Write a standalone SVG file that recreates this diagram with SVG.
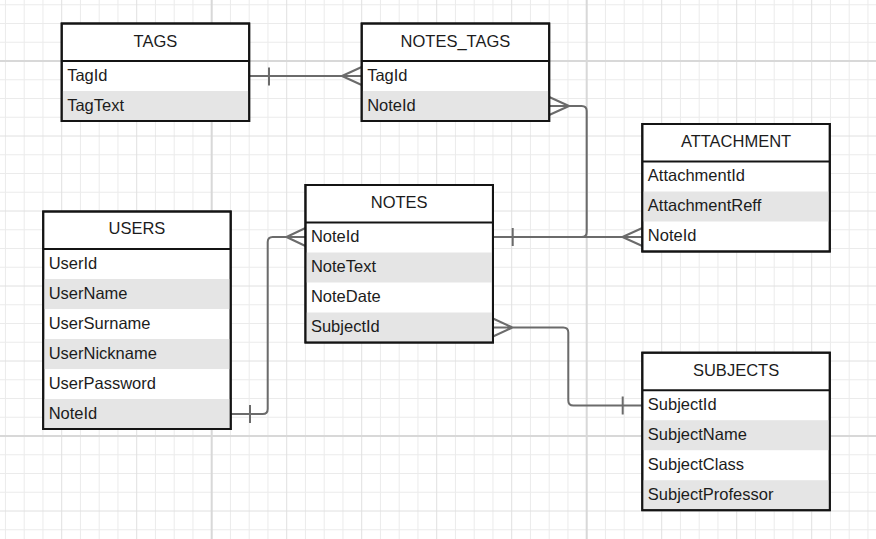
<svg xmlns="http://www.w3.org/2000/svg" width="876" height="539" viewBox="0 0 876 539">
<style>
.minor{stroke:#ebebeb;stroke-width:1;fill:none}
.medium{stroke:#e0e0e0;stroke-width:1;fill:none}
.major{stroke:#d8d8d8;stroke-width:2;fill:none}
.box{fill:#ffffff;stroke:#141414;stroke-width:2}
.sep{stroke:#141414;stroke-width:2}
.alt{fill:#e5e5e5}
.title{font-family:"Liberation Sans",Arial,sans-serif;font-size:16.5px;fill:#1c1c1c;text-anchor:middle}
.field{font-family:"Liberation Sans",Arial,sans-serif;font-size:16.5px;fill:#1c1c1c}
.conn{stroke:#6b6b6b;stroke-width:2;fill:none;stroke-linejoin:round}
</style>
<rect width="876" height="539" fill="#ffffff"/>
<g id="grid">
<path class="minor" d="M5.45 0V539M24.2 0V539M42.95 0V539M80.45 0V539M99.2 0V539M117.95 0V539M155.45 0V539M174.2 0V539M192.95 0V539M230.45 0V539M249.2 0V539M267.95 0V539M305.45 0V539M324.2 0V539M342.95 0V539M380.45 0V539M399.2 0V539M417.95 0V539M455.45 0V539M474.2 0V539M492.95 0V539M530.45 0V539M549.2 0V539M567.95 0V539M605.45 0V539M624.2 0V539M642.95 0V539M680.45 0V539M699.2 0V539M717.95 0V539M755.45 0V539M774.2 0V539M792.95 0V539M830.45 0V539M849.2 0V539M867.95 0V539
M0 4.75H876M0 23.5H876M0 42.25H876M0 79.75H876M0 98.5H876M0 117.25H876M0 154.75H876M0 173.5H876M0 192.25H876M0 229.75H876M0 248.5H876M0 267.25H876M0 304.75H876M0 323.5H876M0 342.25H876M0 379.75H876M0 398.5H876M0 417.25H876M0 454.75H876M0 473.5H876M0 492.25H876M0 529.75H876"/>
<path class="medium" d="M61.7 0V539M136.7 0V539M286.7 0V539M361.7 0V539M436.7 0V539M511.7 0V539M661.7 0V539M736.7 0V539M811.7 0V539M0 136H876M0 211H876M0 286H876M0 361H876M0 511H876"/>
<path class="major" d="M211.7 0V539M586.7 0V539M0 61H876M0 436H876"/>
</g>
<g id="connectors">
<g id="tags-notes_tags">
<path class="conn" d="M249.2 76H361.7M269 67.5V85.5M361.7 67L342 76L361.7 85"/>
</g>
<g id="notes-notes_tags">
<path class="conn" d="M493 237H581.7Q586.7 237 586.7 232V111Q586.7 106 581.7 106H549.2M549.2 97L569 106L549.2 115M512.7 228V246"/>
</g>
<g id="notes-attachment">
<path class="conn" d="M493 237H642.3M642.3 228L622.5 237L642.3 246"/>
</g>
<g id="users-notes">
<path class="conn" d="M230.7 414H262.7Q267.7 414 267.7 409V242Q267.7 237 272.7 237H305.45M250 405V423M305.45 228L286.5 237L305.45 246"/>
</g>
<g id="notes-subjects">
<path class="conn" d="M493 327.5H563.3Q568.3 327.5 568.3 332.5V400.5Q568.3 405.5 573.3 405.5H642.3M493 318.5L512.5 327.5L493 336.5M622.7 396.5V414.5"/>
</g>
</g>
<g id="TAGS">
<rect class="box" x="61.7" y="23.5" width="187.5" height="97.5"/>
<rect class="alt" x="62.7" y="91" width="185.5" height="29"/>
<line class="sep" x1="61.7" y1="61" x2="249.2" y2="61"/>
<rect x="61.7" y="23.5" width="187.5" height="97.5" fill="none" stroke="#141414" stroke-width="2"/>
<text class="title" x="155.45" y="46.5">TAGS</text>
<text class="field" x="67.2" y="80.5">TagId</text>
<text class="field" x="67.2" y="110.5">TagText</text>
</g>
<g id="NOTES_TAGS">
<rect class="box" x="361.7" y="23.5" width="187.5" height="97.5"/>
<rect class="alt" x="362.7" y="91" width="185.5" height="29"/>
<line class="sep" x1="361.7" y1="61" x2="549.2" y2="61"/>
<rect x="361.7" y="23.5" width="187.5" height="97.5" fill="none" stroke="#141414" stroke-width="2"/>
<text class="title" x="455.45" y="46.5">NOTES_TAGS</text>
<text class="field" x="367.2" y="80.5">TagId</text>
<text class="field" x="367.2" y="110.5">NoteId</text>
</g>
<g id="ATTACHMENT">
<rect class="box" x="642.3" y="124" width="187.5" height="127.5"/>
<rect class="alt" x="643.3" y="191.5" width="185.5" height="30"/>
<line class="sep" x1="642.3" y1="161.5" x2="829.8" y2="161.5"/>
<rect x="642.3" y="124" width="187.5" height="127.5" fill="none" stroke="#141414" stroke-width="2"/>
<text class="title" x="736.05" y="147">ATTACHMENT</text>
<text class="field" x="647.8" y="181">AttachmentId</text>
<text class="field" x="647.8" y="211">AttachmentReff</text>
<text class="field" x="647.8" y="241">NoteId</text>
</g>
<g id="NOTES">
<rect class="box" x="305.45" y="185" width="187.5" height="157.5"/>
<rect class="alt" x="306.45" y="252.5" width="185.5" height="30"/>
<rect class="alt" x="306.45" y="312.5" width="185.5" height="29"/>
<line class="sep" x1="305.45" y1="222.5" x2="492.95" y2="222.5"/>
<rect x="305.45" y="185" width="187.5" height="157.5" fill="none" stroke="#141414" stroke-width="2"/>
<text class="title" x="399.2" y="207.6">NOTES</text>
<text class="field" x="310.95" y="242">NoteId</text>
<text class="field" x="310.95" y="272">NoteText</text>
<text class="field" x="310.95" y="302">NoteDate</text>
<text class="field" x="310.95" y="332">SubjectId</text>
</g>
<g id="USERS">
<rect class="box" x="43.2" y="211.5" width="187.5" height="217.5"/>
<rect class="alt" x="44.2" y="279" width="185.5" height="30"/>
<rect class="alt" x="44.2" y="339" width="185.5" height="30"/>
<rect class="alt" x="44.2" y="399" width="185.5" height="29"/>
<line class="sep" x1="43.2" y1="249" x2="230.7" y2="249"/>
<rect x="43.2" y="211.5" width="187.5" height="217.5" fill="none" stroke="#141414" stroke-width="2"/>
<text class="title" x="136.95" y="234.2">USERS</text>
<text class="field" x="48.7" y="268.5">UserId</text>
<text class="field" x="48.7" y="298.5">UserName</text>
<text class="field" x="48.7" y="328.5">UserSurname</text>
<text class="field" x="48.7" y="358.5">UserNickname</text>
<text class="field" x="48.7" y="388.5">UserPassword</text>
<text class="field" x="48.7" y="418.5">NoteId</text>
</g>
<g id="SUBJECTS">
<rect class="box" x="642.3" y="352.7" width="187.5" height="157.5"/>
<rect class="alt" x="643.3" y="420.2" width="185.5" height="30"/>
<rect class="alt" x="643.3" y="480.2" width="185.5" height="29"/>
<line class="sep" x1="642.3" y1="390.2" x2="829.8" y2="390.2"/>
<rect x="642.3" y="352.7" width="187.5" height="157.5" fill="none" stroke="#141414" stroke-width="2"/>
<text class="title" x="736.05" y="375.8">SUBJECTS</text>
<text class="field" x="647.8" y="409.7">SubjectId</text>
<text class="field" x="647.8" y="439.7">SubjectName</text>
<text class="field" x="647.8" y="469.7">SubjectClass</text>
<text class="field" x="647.8" y="499.7">SubjectProfessor</text>
</g>
</svg>
